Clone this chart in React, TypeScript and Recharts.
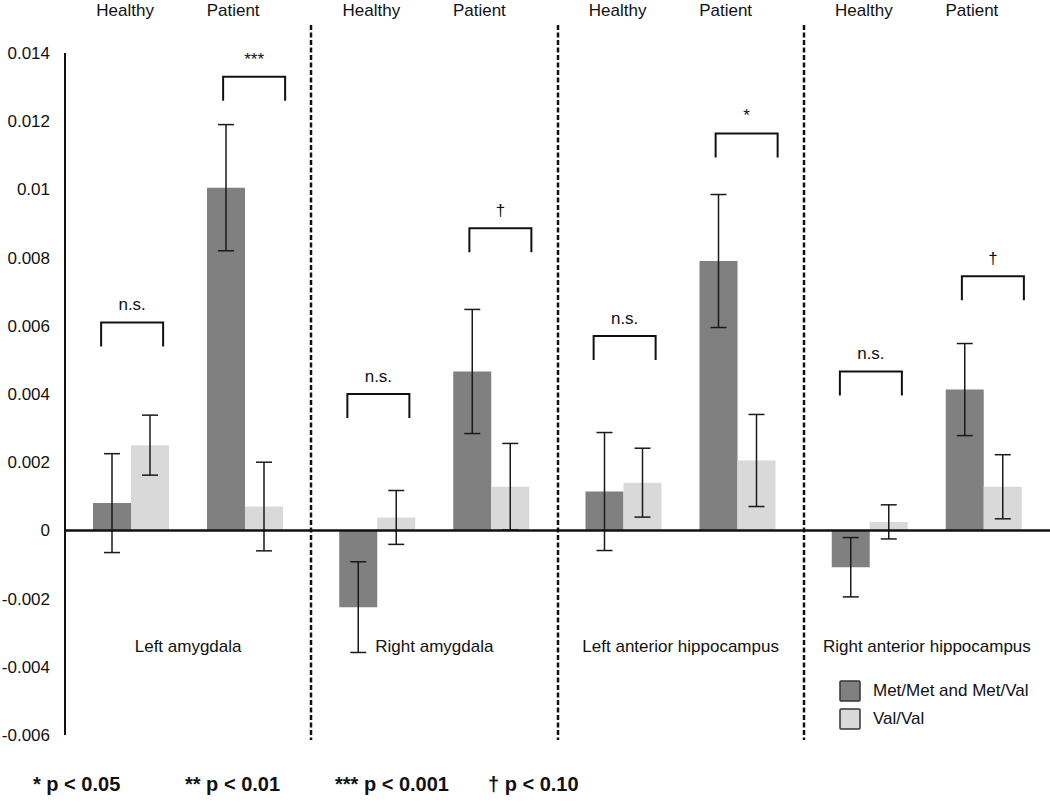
import { ComposedChart, Bar, Line, XAxis, YAxis, ErrorBar, ReferenceLine, Legend } from 'recharts';

const regions = ['Left amygdala', 'Right amygdala', 'Left anterior hippocampus', 'Right anterior hippocampus'];

// Met/Met and Met/Val carriers
const healthyMet = [0.0008, -0.00225, 0.00114, -0.00108];
const healthyMetErr = [0.00145, 0.00133, 0.00173, 0.00087];
const patientMet = [0.01005, 0.00466, 0.0079, 0.00413];
const patientMetErr = [0.00185, 0.00182, 0.00195, 0.00135];

// Val/Val
const healthyVal = [0.0025, 0.00038, 0.0014, 0.00025];
const healthyValErr = [0.00088, 0.00079, 0.00101, 0.0005];
const patientVal = [0.0007, 0.00128, 0.00205, 0.00128];
const patientValErr = [0.0013, 0.00127, 0.00135, 0.00094];

// significance brackets (top of bracket) and their marks
const bracketHealthy = [0.0061, 0.004, 0.0057, 0.00466];
const bracketPatient = [0.0133, 0.00886, 0.01164, 0.00745];
const signifHealthy = ['n.s.', 'n.s.', 'n.s.', 'n.s.'];
const signifPatient = ['***', '\u2020', '*', '\u2020'];

const yTicks = [-0.006, -0.004, -0.002, 0, 0.002, 0.004, 0.006, 0.008, 0.01, 0.012, 0.014];
const pLegend = ['* p < 0.05', '** p < 0.01', '*** p < 0.001', '\u2020 p < 0.10'];

const data = regions.map((region, i) => ({
  region,
  hm: healthyMet[i],
  hmErr: healthyMetErr[i],
  hv: healthyVal[i],
  hvErr: healthyValErr[i],
  pm: patientMet[i],
  pmErr: patientMetErr[i],
  pv: patientVal[i],
  pvErr: patientValErr[i],
  bh: bracketHealthy[i],
  bp: bracketPatient[i],
}));

const W = 1050;
const H = 804;
const LEFT = 65;
const CAT_W = (W - LEFT) / regions.length;
const DARK = '#808080';
const LIGHT = '#d9d9d9';
const FONT = '"Liberation Sans", Arial, Helvetica, sans-serif';

function Bracket(props: any) {
  const { cx, cy, index, offset, marks } = props;
  if (cx == null || cy == null) return null;
  const x1 = cx + offset - 31;
  const x2 = cx + offset + 31;
  return (
    <g key={`br-${offset}-${index}`}>
      <path d={`M${x1},${cy + 24} L${x1},${cy} L${x2},${cy} L${x2},${cy + 24}`} fill="none" stroke="#111" strokeWidth={2} />
      <text x={cx + offset} y={cy - 12} textAnchor="middle" fontSize={17} fill="#111">{marks[index]}</text>
    </g>
  );
}

function TopTick(props: any) {
  const { x, y, index } = props;
  const dx = Math.round(x + CAT_W / 2);
  return (
    <g>
      <text x={x - 63} y={y - 29} textAnchor="middle" fontSize={17} fill="#111">Healthy</text>
      <text x={x + 45} y={y - 29} textAnchor="middle" fontSize={17} fill="#111">Patient</text>
      {index < regions.length - 1 && (
        <line x1={dx} x2={dx} y1={25} y2={740} stroke="#111" strokeWidth={2.5} strokeDasharray="5 2.5" />
      )}
    </g>
  );
}

function RegionTick(props: any) {
  const { x, y, payload } = props;
  return (
    <text x={x} y={y - 91} textAnchor="middle" fontSize={17} fill="#111">{payload.value}</text>
  );
}

function LegendBox(props: any) {
  const items = (props.payload || []).filter((p: any) => p.type !== 'none');
  return (
    <div>
      {items.map((p: any) => (
        <div key={p.value} style={{ display: 'flex', alignItems: 'center', height: 28 }}>
          <svg width={22} height={22} style={{ marginRight: 12 }}>
            <rect x={1} y={1} width={20} height={20} fill={p.color} stroke="#333" strokeWidth={1.5} rx={1} />
          </svg>
          <span style={{ fontSize: 17, color: '#111' }}>{p.value}</span>
        </div>
      ))}
    </div>
  );
}

export default function App() {
  return (
    <div style={{ position: 'absolute', left: 0, top: 0, width: W, height: H, fontFamily: FONT, background: '#fff' }}>
      <ComposedChart width={W} height={H} data={data} barGap={0} margin={{ top: 23, right: 0, bottom: 39, left: 0 }}>
        <XAxis dataKey="region" xAxisId="bottom" height={30} axisLine={false} tickLine={false} tick={<RegionTick />} interval={0} />
        <XAxis dataKey="region" xAxisId="top" orientation="top" height={30} axisLine={false} tickLine={false} tick={<TopTick />} interval={0} />
        <YAxis
          width={LEFT}
          domain={[-0.006, 0.014]}
          ticks={yTicks}
          tickFormatter={(v: number) => String(v)}
          tickLine={false}
          tickMargin={9}
          axisLine={{ stroke: '#111', strokeWidth: 2 }}
          tick={{ fill: '#111', fontSize: 17 }}
        />
        <Legend layout="vertical" align="center" verticalAlign="middle" content={<LegendBox />} wrapperStyle={{ left: 839, top: 677, width: 210 }} />
        <Bar xAxisId="bottom" dataKey="hm" name="Met/Met and Met/Val" fill={DARK} barSize={38} isAnimationActive={false}>
          <ErrorBar dataKey="hmErr" width={8} stroke="#1a1a1a" strokeWidth={1.5} />
        </Bar>
        <Bar xAxisId="bottom" dataKey="hv" name="Val/Val" fill={LIGHT} barSize={38} isAnimationActive={false}>
          <ErrorBar dataKey="hvErr" width={8} stroke="#1a1a1a" strokeWidth={1.5} />
        </Bar>
        <Bar xAxisId="bottom" dataKey="spacer" legendType="none" fill="none" barSize={38} isAnimationActive={false} />
        <Bar xAxisId="bottom" dataKey="pm" legendType="none" fill={DARK} barSize={38} isAnimationActive={false}>
          <ErrorBar dataKey="pmErr" width={8} stroke="#1a1a1a" strokeWidth={1.5} />
        </Bar>
        <Bar xAxisId="bottom" dataKey="pv" legendType="none" fill={LIGHT} barSize={38} isAnimationActive={false}>
          <ErrorBar dataKey="pvErr" width={8} stroke="#1a1a1a" strokeWidth={1.5} />
        </Bar>
        <ReferenceLine xAxisId="bottom" y={0} stroke="#111" strokeWidth={2.5} />
        <Line xAxisId="bottom" dataKey="bh" legendType="none" stroke="none" isAnimationActive={false} activeDot={false}
          dot={(p: any) => <Bracket {...p} key={`bh-${p.index}`} offset={-56} marks={signifHealthy} />} />
        <Line xAxisId="bottom" dataKey="bp" legendType="none" stroke="none" isAnimationActive={false} activeDot={false}
          dot={(p: any) => <Bracket {...p} key={`bp-${p.index}`} offset={66} marks={signifPatient} />} />
      </ComposedChart>
      {pLegend.map((t, i) => (
        <div key={t} style={{ position: 'absolute', top: 773, left: [33, 185, 335, 488][i], fontSize: 20, fontWeight: 'bold', color: '#111', whiteSpace: 'nowrap' }}>
          {t}
        </div>
      ))}
    </div>
  );
}
